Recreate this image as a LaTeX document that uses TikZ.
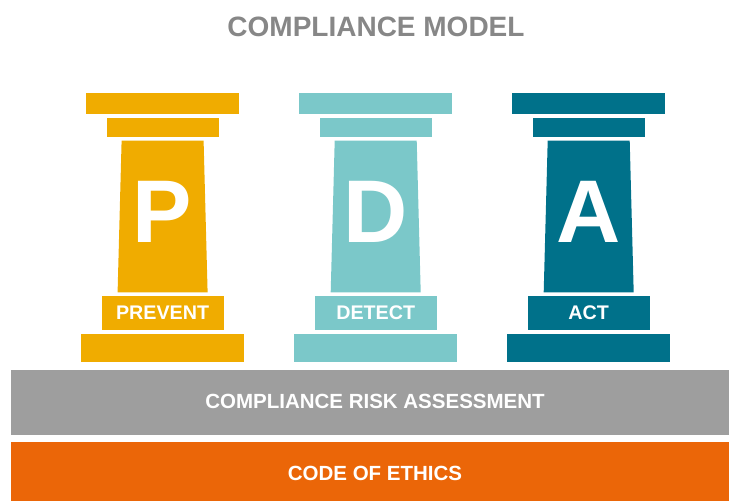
\documentclass[tikz,border=0pt]{standalone}
\usepackage{fontspec}
\setmainfont{Liberation Sans}

\definecolor{preventcol}{HTML}{F0AC00}
\definecolor{detectcol}{HTML}{7BC8C9}
\definecolor{actcol}{HTML}{00718A}
\definecolor{riskgray}{HTML}{9E9E9E}
\definecolor{ethicsorange}{HTML}{EB6608}
\definecolor{titlegray}{HTML}{878787}

\begin{document}
\begin{tikzpicture}[x=1pt, y=-1pt]
		\tikzstyle{every node}=[align=center, inner sep=0pt, text=white, font=\bfseries]
		\useasboundingbox (0, 0) rectangle (729, 501);

		\node [text=titlegray, font=\bfseries\fontsize{28}{28}\selectfont] (title) at (376, 26.7) {COMPLIANCE MODEL};

		% the three pillars
		\foreach \cx/\col/\letter/\word/\name in {162.6/preventcol/P/PREVENT/prevent, 375.7/detectcol/D/DETECT/detect, 588.7/actcol/A/ACT/act} {
			\fill [\col] ({\cx-76.5}, 92.7) rectangle ({\cx+76.5}, 114.3);
			\fill [\col] ({\cx-56}, 118.3) rectangle ({\cx+56}, 136.7);
			\fill [\col] ({\cx-41}, 140.7) -- ({\cx+41}, 140.7) -- ({\cx+45}, 292.3) -- ({\cx-45}, 292.3) -- cycle;
			\fill [\col] ({\cx-61}, 296) rectangle ({\cx+61}, 330);
			\fill [\col] ({\cx-81.3}, 334) rectangle ({\cx+81.3}, 361.7);
			\node [font=\bfseries\fontsize{89}{89}\selectfont] (\name letter) at (\cx, 212) {\letter};
			\node [font=\bfseries\fontsize{19.7}{19.7}\selectfont] (\name) at (\cx, 313) {\word};
		}

		% foundations
		\fill [riskgray] (11, 370) rectangle (729, 435);
		\node [font=\bfseries\fontsize{20.5}{20.5}\selectfont] (risk) at (375, 401.7) {COMPLIANCE RISK ASSESSMENT};
		\fill [ethicsorange] (11, 441.5) rectangle (729, 501);
		\node [font=\bfseries\fontsize{20.5}{20.5}\selectfont] (ethics) at (375, 473.7) {CODE OF ETHICS};
	\end{tikzpicture}
\end{document}
